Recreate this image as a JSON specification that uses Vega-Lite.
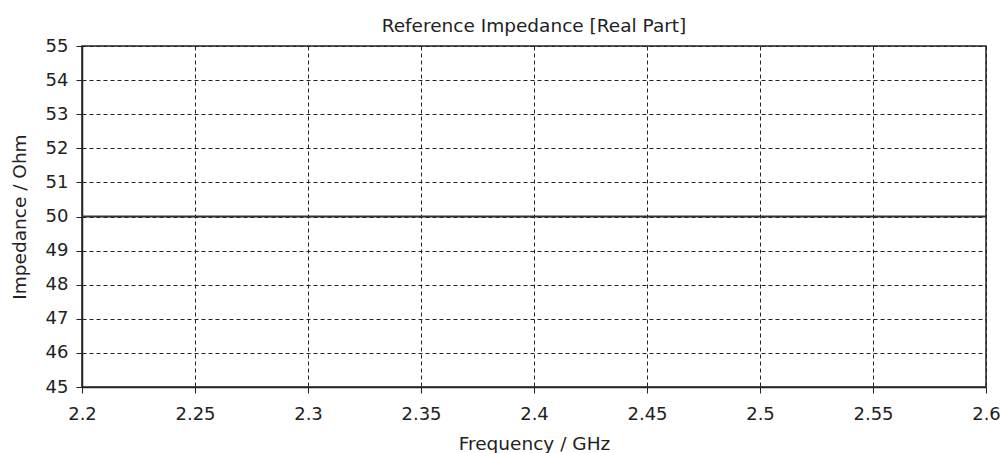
{
  "$schema": "https://vega.github.io/schema/vega-lite/v6.json",
  "width": 904,
  "height": 341,
  "autosize": {"type": "none"},
  "padding": {"left": 82, "top": 46, "right": 16, "bottom": 66},
  "background": "white",
  "config": {
    "font": "DejaVu Sans",
    "view": {"stroke": "#222", "strokeWidth": 1.5},
    "axis": {
      "domainColor": "#222",
      "domainWidth": 1.5,
      "tickColor": "#222",
      "tickSize": 6,
      "labelFont": "DejaVu Sans",
      "labelFontSize": 18,
      "labelColor": "#222",
      "titleFont": "DejaVu Sans",
      "titleFontSize": 18.5,
      "titleFontWeight": "normal",
      "titleColor": "#222",
      "gridColor": "#222",
      "gridDash": [4, 3],
      "gridWidth": 1,
      "gridOpacity": 1
    }
  },
  "title": {
    "text": "Reference Impedance [Real Part]",
    "font": "DejaVu Sans",
    "fontSize": 18.5,
    "fontWeight": "normal",
    "color": "#222",
    "offset": 2
  },
  "data": {
    "values": [
      {"frequency": 2.2, "impedance": 50},
      {"frequency": 2.3, "impedance": 50},
      {"frequency": 2.4, "impedance": 50},
      {"frequency": 2.5, "impedance": 50},
      {"frequency": 2.6, "impedance": 50}
    ]
  },
  "mark": {"type": "line", "color": "#333", "strokeWidth": 2, "clip": true},
  "encoding": {
    "x": {
      "field": "frequency",
      "type": "quantitative",
      "scale": {"domain": [2.2, 2.6], "nice": false, "zero": false},
      "axis": {
        "title": "Frequency / GHz",
        "values": [2.2, 2.25, 2.3, 2.35, 2.4, 2.45, 2.5, 2.55, 2.6],
        "format": "~g",
        "labelPadding": 12,
        "labelFlush": false,
        "labelOverlap": false,
        "labelBound": false,
        "titlePadding": 11
      }
    },
    "y": {
      "field": "impedance",
      "type": "quantitative",
      "scale": {"domain": [45, 55], "nice": false, "zero": false},
      "axis": {
        "title": "Impedance / Ohm",
        "values": [45, 46, 47, 48, 49, 50, 51, 52, 53, 54, 55],
        "labelPadding": 8,
        "labelFlush": false,
        "labelOverlap": false,
        "titlePadding": 16
      }
    }
  }
}
